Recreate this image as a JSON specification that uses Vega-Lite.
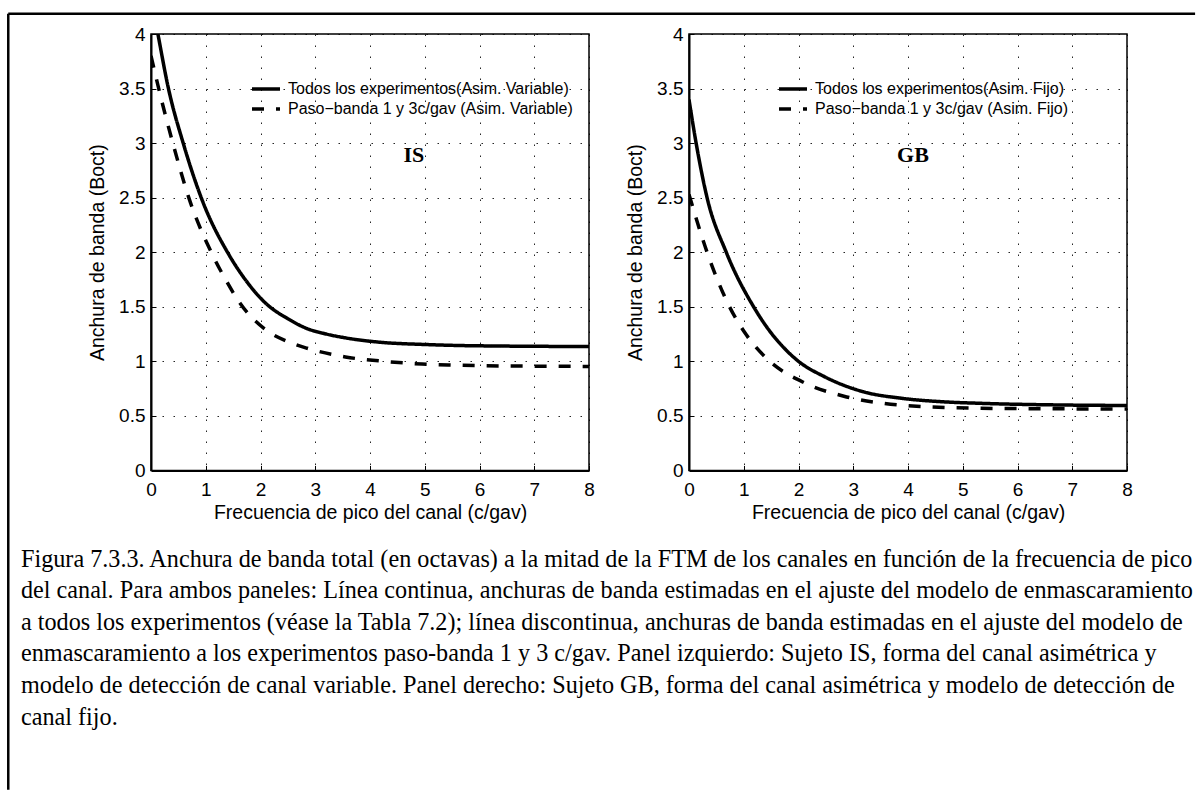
{
  "$schema": "https://vega.github.io/schema/vega-lite/v6.json",
  "background": "white",
  "padding": {"left": 6, "top": 11, "right": 0, "bottom": 0},
  "autosize": {"type": "pad"},
  "config": {
    "font": "Liberation Sans",
    "view": {"stroke": "black", "strokeWidth": 1.5},
    "axis": {
      "labelFont": "Liberation Sans", "labelFontSize": 19, "labelColor": "black",
      "labelFlush": false, "labelOverlap": false,
      "titleFont": "Liberation Sans", "titleFontSize": 19.5, "titleFontWeight": "normal", "titleColor": "black",
      "domainColor": "black", "domainWidth": 2,
      "tickColor": "black", "tickSize": -5, "tickWidth": 1,
      "grid": true, "gridColor": "black", "gridOpacity": 0.85, "gridDash": [1.5, 9.5], "gridWidth": 1
    },
    "axisX": {"labelPadding": 15, "titlePadding": 4},
    "axisY": {"labelPadding": 11, "titlePadding": 11},
    "legend": {
      "orient": "none", "symbolType": "stroke", "symbolSize": 784, "symbolStrokeWidth": 3.5,
      "symbolStrokeColor": "black", "symbolFillColor": "transparent",
      "labelFont": "Liberation Sans", "labelFontSize": 16, "labelColor": "black",
      "labelOffset": 6, "labelLimit": 500, "rowPadding": 0, "clipHeight": 20, "padding": 0
    }
  },
  "datasets": {
    "is": [
      {"x": 0, "y": 4.33, "s": "Todos los experimentos(Asim. Variable)"},
      {"x": 0.126, "y": 4.0, "s": "Todos los experimentos(Asim. Variable)"},
      {"x": 0.31, "y": 3.52, "s": "Todos los experimentos(Asim. Variable)"},
      {"x": 0.6, "y": 2.98, "s": "Todos los experimentos(Asim. Variable)"},
      {"x": 0.94, "y": 2.47, "s": "Todos los experimentos(Asim. Variable)"},
      {"x": 1.42, "y": 1.98, "s": "Todos los experimentos(Asim. Variable)"},
      {"x": 1.75, "y": 1.73, "s": "Todos los experimentos(Asim. Variable)"},
      {"x": 2.1, "y": 1.53, "s": "Todos los experimentos(Asim. Variable)"},
      {"x": 2.5, "y": 1.39, "s": "Todos los experimentos(Asim. Variable)"},
      {"x": 2.85, "y": 1.3, "s": "Todos los experimentos(Asim. Variable)"},
      {"x": 3.2, "y": 1.25, "s": "Todos los experimentos(Asim. Variable)"},
      {"x": 3.55, "y": 1.215, "s": "Todos los experimentos(Asim. Variable)"},
      {"x": 4.25, "y": 1.172, "s": "Todos los experimentos(Asim. Variable)"},
      {"x": 4.95, "y": 1.155, "s": "Todos los experimentos(Asim. Variable)"},
      {"x": 5.6, "y": 1.145, "s": "Todos los experimentos(Asim. Variable)"},
      {"x": 6.35, "y": 1.14, "s": "Todos los experimentos(Asim. Variable)"},
      {"x": 7.2, "y": 1.137, "s": "Todos los experimentos(Asim. Variable)"},
      {"x": 8, "y": 1.135, "s": "Todos los experimentos(Asim. Variable)"},
      {"x": 0, "y": 3.8, "s": "Paso−banda 1 y 3c/gav (Asim. Variable)"},
      {"x": 0.16, "y": 3.46, "s": "Paso−banda 1 y 3c/gav (Asim. Variable)"},
      {"x": 0.41, "y": 2.98, "s": "Paso−banda 1 y 3c/gav (Asim. Variable)"},
      {"x": 0.69, "y": 2.5, "s": "Paso−banda 1 y 3c/gav (Asim. Variable)"},
      {"x": 1.1, "y": 2.0, "s": "Paso−banda 1 y 3c/gav (Asim. Variable)"},
      {"x": 1.35, "y": 1.76, "s": "Paso−banda 1 y 3c/gav (Asim. Variable)"},
      {"x": 1.63, "y": 1.53, "s": "Paso−banda 1 y 3c/gav (Asim. Variable)"},
      {"x": 2.15, "y": 1.27, "s": "Paso−banda 1 y 3c/gav (Asim. Variable)"},
      {"x": 2.5, "y": 1.18, "s": "Paso−banda 1 y 3c/gav (Asim. Variable)"},
      {"x": 2.85, "y": 1.12, "s": "Paso−banda 1 y 3c/gav (Asim. Variable)"},
      {"x": 3.55, "y": 1.04, "s": "Paso−banda 1 y 3c/gav (Asim. Variable)"},
      {"x": 4.25, "y": 1.0, "s": "Paso−banda 1 y 3c/gav (Asim. Variable)"},
      {"x": 4.95, "y": 0.975, "s": "Paso−banda 1 y 3c/gav (Asim. Variable)"},
      {"x": 5.6, "y": 0.965, "s": "Paso−banda 1 y 3c/gav (Asim. Variable)"},
      {"x": 6.35, "y": 0.958, "s": "Paso−banda 1 y 3c/gav (Asim. Variable)"},
      {"x": 7.2, "y": 0.955, "s": "Paso−banda 1 y 3c/gav (Asim. Variable)"},
      {"x": 8, "y": 0.953, "s": "Paso−banda 1 y 3c/gav (Asim. Variable)"}
    ],
    "gb": [
      {"x": 0, "y": 3.4, "s": "Todos los experimentos(Asim. Fijo)"},
      {"x": 0.13, "y": 3.0, "s": "Todos los experimentos(Asim. Fijo)"},
      {"x": 0.33, "y": 2.5, "s": "Todos los experimentos(Asim. Fijo)"},
      {"x": 0.68, "y": 2.0, "s": "Todos los experimentos(Asim. Fijo)"},
      {"x": 1.18, "y": 1.5, "s": "Todos los experimentos(Asim. Fijo)"},
      {"x": 1.5, "y": 1.26, "s": "Todos los experimentos(Asim. Fijo)"},
      {"x": 1.76, "y": 1.11, "s": "Todos los experimentos(Asim. Fijo)"},
      {"x": 2.0, "y": 1.0, "s": "Todos los experimentos(Asim. Fijo)"},
      {"x": 2.47, "y": 0.86, "s": "Todos los experimentos(Asim. Fijo)"},
      {"x": 3.19, "y": 0.72, "s": "Todos los experimentos(Asim. Fijo)"},
      {"x": 3.9, "y": 0.66, "s": "Todos los experimentos(Asim. Fijo)"},
      {"x": 4.6, "y": 0.63, "s": "Todos los experimentos(Asim. Fijo)"},
      {"x": 5.32, "y": 0.615, "s": "Todos los experimentos(Asim. Fijo)"},
      {"x": 6.74, "y": 0.6, "s": "Todos los experimentos(Asim. Fijo)"},
      {"x": 8, "y": 0.595, "s": "Todos los experimentos(Asim. Fijo)"},
      {"x": 0, "y": 2.53, "s": "Paso−banda 1 y 3c/gav (Asim. Fijo)"},
      {"x": 0.33, "y": 2.0, "s": "Paso−banda 1 y 3c/gav (Asim. Fijo)"},
      {"x": 0.74, "y": 1.5, "s": "Paso−banda 1 y 3c/gav (Asim. Fijo)"},
      {"x": 1.05, "y": 1.24, "s": "Paso−banda 1 y 3c/gav (Asim. Fijo)"},
      {"x": 1.41, "y": 1.03, "s": "Paso−banda 1 y 3c/gav (Asim. Fijo)"},
      {"x": 2.12, "y": 0.8, "s": "Paso−banda 1 y 3c/gav (Asim. Fijo)"},
      {"x": 2.83, "y": 0.68, "s": "Paso−banda 1 y 3c/gav (Asim. Fijo)"},
      {"x": 3.54, "y": 0.615, "s": "Paso−banda 1 y 3c/gav (Asim. Fijo)"},
      {"x": 4.25, "y": 0.585, "s": "Paso−banda 1 y 3c/gav (Asim. Fijo)"},
      {"x": 5.32, "y": 0.57, "s": "Paso−banda 1 y 3c/gav (Asim. Fijo)"},
      {"x": 6.5, "y": 0.565, "s": "Paso−banda 1 y 3c/gav (Asim. Fijo)"},
      {"x": 8, "y": 0.563, "s": "Paso−banda 1 y 3c/gav (Asim. Fijo)"}
    ],
    "caption": [
      {"line": 1, "text": "Figura 7.3.3. Anchura de banda total (en octavas) a la mitad de la FTM de los canales en función de la frecuencia de pico"},
      {"line": 2, "text": "del canal. Para ambos paneles: Línea continua, anchuras de banda estimadas en el ajuste del modelo de enmascaramiento"},
      {"line": 3, "text": "a todos los experimentos (véase la Tabla 7.2); línea discontinua, anchuras de banda estimadas en el ajuste del modelo de"},
      {"line": 4, "text": "enmascaramiento a los experimentos paso-banda 1 y 3 c/gav. Panel izquierdo: Sujeto IS, forma del canal asimétrica y"},
      {"line": 5, "text": "modelo de detección de canal variable. Panel derecho: Sujeto GB, forma del canal asimétrica y modelo de detección de"},
      {"line": 6, "text": "canal fijo."}
    ]
  },
  "columns": 2,
  "spacing": {"row": 95.6, "column": 100},
  "bounds": "flush",
  "resolve": {"scale": {"strokeDash": "independent"}, "legend": {"strokeDash": "independent"}},
  "concat": [
    {
      "width": 438, "height": 436.4,
      "layer": [
        {
          "data": {"name": "is"},
          "mark": {"type": "line", "clip": true, "strokeWidth": 3.5, "color": "black", "interpolate": "monotone"},
          "encoding": {
            "x": {"field": "x", "type": "quantitative", "scale": {"domain": [0, 8], "nice": false},
                  "axis": {"values": [0, 1, 2, 3, 4, 5, 6, 7, 8], "title": "Frecuencia de pico del canal (c/gav)"}},
            "y": {"field": "y", "type": "quantitative", "scale": {"domain": [0, 4], "nice": false},
                  "axis": {"values": [0, 0.5, 1, 1.5, 2, 2.5, 3, 3.5, 4], "format": "~g", "title": "Anchura de banda (Boct)"}},
            "strokeDash": {"field": "s", "type": "nominal",
              "scale": {"domain": ["Todos los experimentos(Asim. Variable)", "Paso−banda 1 y 3c/gav (Asim. Variable)"], "range": [[1, 0], [12, 12]]},
              "legend": {"title": null, "legendX": 99, "legendY": 45}}
          }
        },
        {
          "data": {"values": [{"label": "IS"}]},
          "mark": {"type": "text", "font": "Liberation Serif", "fontWeight": "bold", "fontSize": 22, "align": "center", "baseline": "alphabetic", "color": "black"},
          "encoding": {"x": {"datum": 4.8}, "y": {"datum": 2.823}, "text": {"field": "label"}}
        },
        {
          "data": {"values": [{}]},
          "mark": {"type": "rule", "strokeWidth": 2.5, "color": "black", "clip": false},
          "encoding": {"x": {"datum": -2.607}, "x2": {"datum": 19.07}, "y": {"datum": 4.186}}
        },
        {
          "data": {"values": [{}]},
          "mark": {"type": "rule", "strokeWidth": 2.5, "color": "black", "clip": false},
          "encoding": {"x": {"datum": -2.607}, "y": {"datum": 4.186}, "y2": {"datum": -2.927}}
        }
      ]
    },
    {
      "width": 438, "height": 436.4,
      "layer": [
        {
          "data": {"name": "gb"},
          "mark": {"type": "line", "clip": true, "strokeWidth": 3.5, "color": "black", "interpolate": "monotone"},
          "encoding": {
            "x": {"field": "x", "type": "quantitative", "scale": {"domain": [0, 8], "nice": false},
                  "axis": {"values": [0, 1, 2, 3, 4, 5, 6, 7, 8], "title": "Frecuencia de pico del canal (c/gav)"}},
            "y": {"field": "y", "type": "quantitative", "scale": {"domain": [0, 4], "nice": false},
                  "axis": {"values": [0, 0.5, 1, 1.5, 2, 2.5, 3, 3.5, 4], "format": "~g", "title": "Anchura de banda (Boct)"}},
            "strokeDash": {"field": "s", "type": "nominal",
              "scale": {"domain": ["Todos los experimentos(Asim. Fijo)", "Paso−banda 1 y 3c/gav (Asim. Fijo)"], "range": [[1, 0], [12, 12]]},
              "legend": {"title": null, "legendX": 88, "legendY": 45}}
          }
        },
        {
          "data": {"values": [{"label": "GB"}]},
          "mark": {"type": "text", "font": "Liberation Serif", "fontWeight": "bold", "fontSize": 22, "align": "center", "baseline": "alphabetic", "color": "black"},
          "encoding": {"x": {"datum": 4.09}, "y": {"datum": 2.823}, "text": {"field": "label"}}
        }
      ]
    },
    {
      "width": 438, "height": 158,
      "view": {"stroke": null},
      "data": {"name": "caption"},
      "mark": {"type": "text", "font": "Liberation Serif", "fontSize": 24.2, "align": "left", "baseline": "alphabetic", "color": "black", "dx": -130},
      "encoding": {
        "x": {"value": 0},
        "y": {"field": "line", "type": "quantitative", "scale": {"domain": [1, 6], "reverse": true, "nice": false, "zero": false}, "axis": null},
        "text": {"field": "text"}
      }
    }
  ]
}
